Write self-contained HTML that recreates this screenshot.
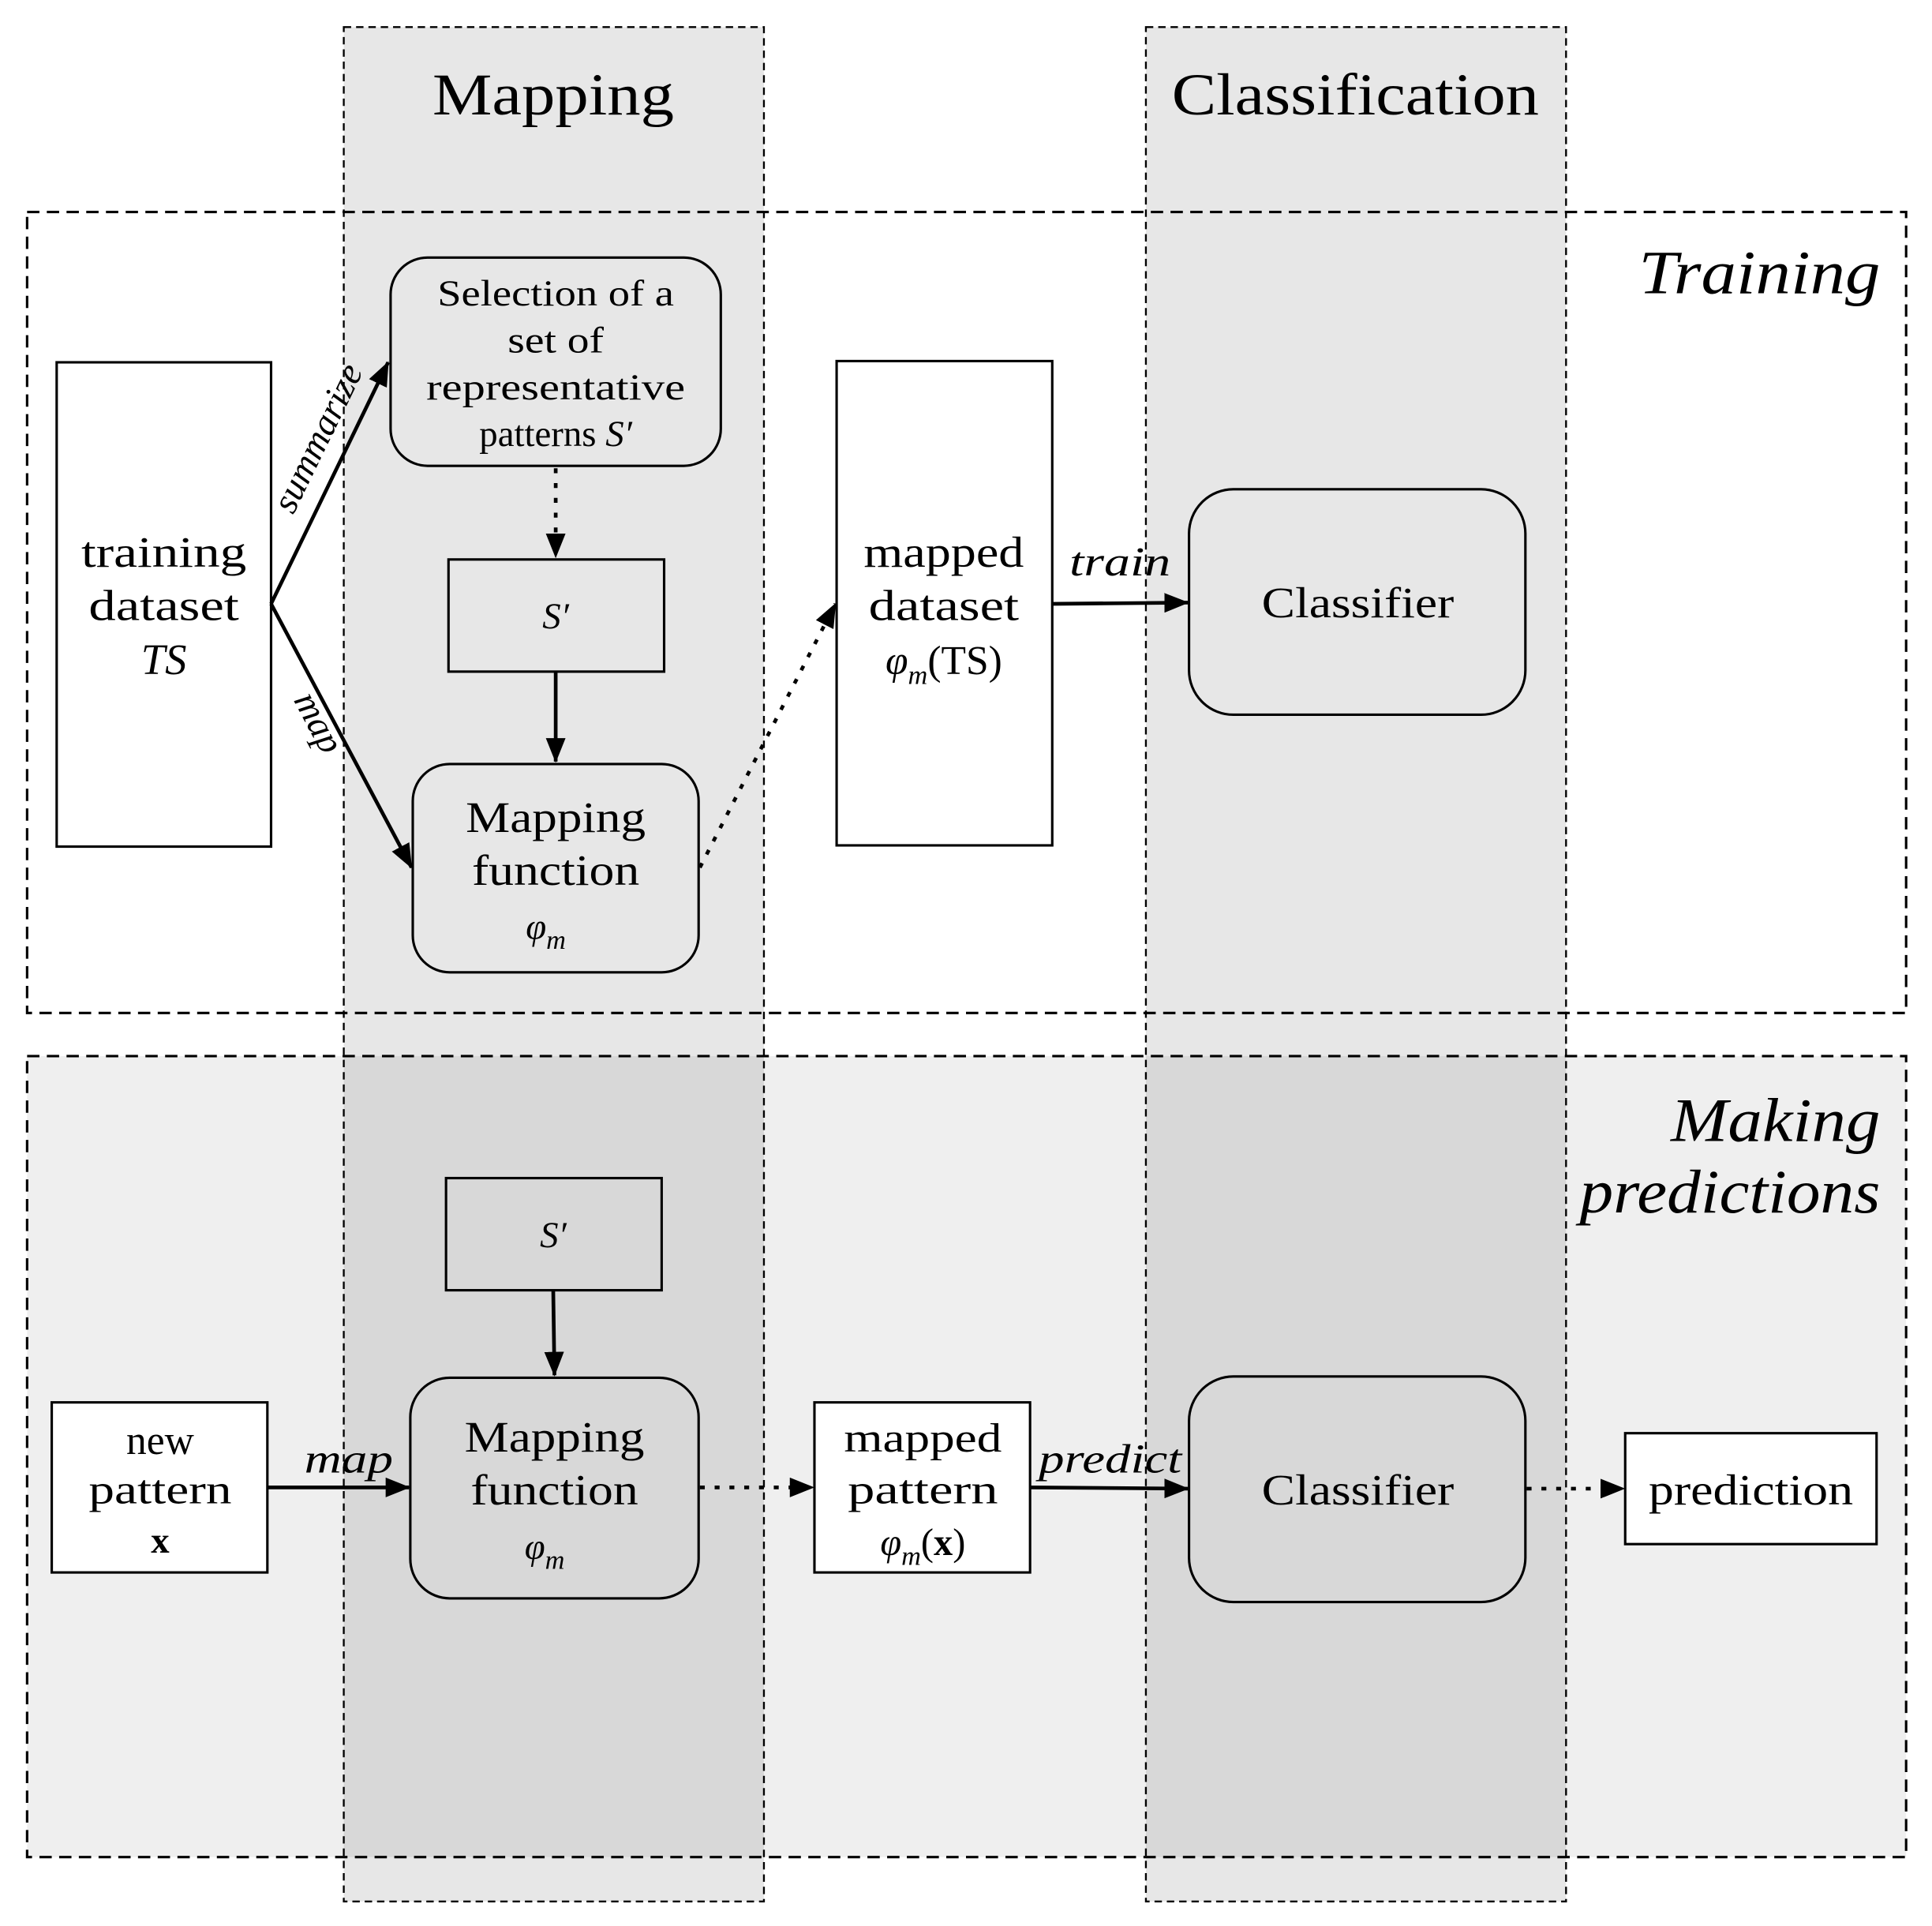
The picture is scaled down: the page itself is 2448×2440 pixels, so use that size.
<!DOCTYPE html>
<html><head><meta charset="utf-8"><style>
html,body{margin:0;padding:0;background:#fff;}
svg{display:block;}
text{font-family:"Liberation Serif",serif;fill:#000;}
.it{font-style:italic;}
</style></head><body>
<svg width="2448" height="2440" viewBox="0 0 1568 1562.9" preserveAspectRatio="none" xmlns="http://www.w3.org/2000/svg">
<defs>
<marker id="ah2" markerWidth="20" markerHeight="16" refX="19" refY="8" orient="auto" markerUnits="userSpaceOnUse">
<path d="M0,0 L20,8 L0,16 z" fill="#000"/>
</marker>
</defs>
<rect x="22" y="857" width="1525" height="650" fill="#efefef"/>
<rect x="22" y="172" width="1525" height="650" fill="none" stroke="#000" stroke-width="2" stroke-dasharray="10,6"/>
<rect x="22" y="857" width="1525" height="650" fill="none" stroke="#000" stroke-width="2" stroke-dasharray="10,6"/>
<rect x="279" y="22" width="341" height="1521" fill="rgba(0,0,0,0.095)" stroke="#000" stroke-width="1.5" stroke-dasharray="6,4"/>
<rect x="930" y="22" width="341" height="1521" fill="rgba(0,0,0,0.095)" stroke="#000" stroke-width="1.5" stroke-dasharray="6,4"/>

<text x="449" y="93" font-size="48" text-anchor="middle" textLength="196" lengthAdjust="spacingAndGlyphs">Mapping</text>
<text x="1100" y="93" font-size="48" text-anchor="middle" textLength="298" lengthAdjust="spacingAndGlyphs">Classification</text>
<text x="1526" y="238" font-size="50" text-anchor="end" class="it" textLength="196" lengthAdjust="spacingAndGlyphs">Training</text>
<text x="1526" y="926" font-size="50" text-anchor="end" class="it" textLength="170" lengthAdjust="spacingAndGlyphs">Making</text>
<text x="1526" y="984" font-size="50" text-anchor="end" class="it" textLength="244" lengthAdjust="spacingAndGlyphs">predictions</text>

<rect x="46" y="294" width="174" height="393" fill="#fff" stroke="#000" stroke-width="2"/>
<text x="133" y="460" font-size="35" text-anchor="middle" textLength="134" lengthAdjust="spacingAndGlyphs">training</text>
<text x="133" y="503" font-size="35" text-anchor="middle" textLength="122" lengthAdjust="spacingAndGlyphs">dataset</text>
<text x="133" y="547" font-size="35" text-anchor="middle" class="it">TS</text>

<rect x="317" y="209" width="268" height="169" rx="30" fill="none" stroke="#000" stroke-width="2"/>
<text x="451" y="248" font-size="30" text-anchor="middle" textLength="192" lengthAdjust="spacingAndGlyphs">Selection of a</text>
<text x="451" y="286" font-size="30" text-anchor="middle" textLength="78" lengthAdjust="spacingAndGlyphs">set of</text>
<text x="451" y="324" font-size="30" text-anchor="middle" textLength="210" lengthAdjust="spacingAndGlyphs">representative</text>
<text x="451" y="362" font-size="30" text-anchor="middle">patterns <tspan class="it">S′</tspan></text>

<rect x="364" y="454" width="175" height="91" fill="none" stroke="#000" stroke-width="2"/>
<text x="451" y="510" font-size="30" text-anchor="middle" class="it">S′</text>

<rect x="335" y="620" width="232" height="169" rx="30" fill="none" stroke="#000" stroke-width="2"/>
<text x="451" y="675" font-size="35" text-anchor="middle" textLength="146" lengthAdjust="spacingAndGlyphs">Mapping</text>
<text x="451" y="718" font-size="35" text-anchor="middle" textLength="136" lengthAdjust="spacingAndGlyphs">function</text>
<text x="443" y="762" font-size="30" text-anchor="middle" class="it">φ<tspan font-size="22" dy="8">m</tspan></text>

<rect x="679" y="293" width="175" height="393" fill="#fff" stroke="#000" stroke-width="2"/>
<text x="766" y="460" font-size="35" text-anchor="middle" textLength="130" lengthAdjust="spacingAndGlyphs">mapped</text>
<text x="766" y="503" font-size="35" text-anchor="middle" textLength="122" lengthAdjust="spacingAndGlyphs">dataset</text>
<text x="766" y="547" font-size="33" text-anchor="middle"><tspan class="it">φ</tspan><tspan class="it" font-size="22" dy="8">m</tspan><tspan dy="-8">(TS)</tspan></text>

<rect x="965" y="397" width="273" height="183" rx="36" fill="none" stroke="#000" stroke-width="2"/>
<text x="1102" y="501" font-size="35" text-anchor="middle" textLength="156" lengthAdjust="spacingAndGlyphs">Classifier</text>

<line x1="220" y1="490" x2="315" y2="294" stroke="#000" stroke-width="3" marker-end="url(#ah2)"/>
<line x1="220" y1="490" x2="334" y2="704" stroke="#000" stroke-width="3" marker-end="url(#ah2)"/>
<text transform="translate(238,418) rotate(-64)" font-size="30" class="it">summarize</text>
<text transform="translate(238,568) rotate(62)" font-size="30" class="it">map</text>
<line x1="451" y1="380" x2="451" y2="452" stroke="#000" stroke-width="3" stroke-dasharray="4,8" marker-end="url(#ah2)"/>
<line x1="451" y1="545" x2="451" y2="618" stroke="#000" stroke-width="3" marker-end="url(#ah2)"/>
<line x1="568" y1="704" x2="678" y2="490" stroke="#000" stroke-width="3" stroke-dasharray="4,8" marker-end="url(#ah2)"/>
<line x1="854" y1="490" x2="964" y2="489" stroke="#000" stroke-width="3" marker-end="url(#ah2)"/>
<text x="909" y="467" font-size="33" text-anchor="middle" class="it" textLength="82" lengthAdjust="spacingAndGlyphs">train</text>

<rect x="362" y="956" width="175" height="91" fill="none" stroke="#000" stroke-width="2"/>
<text x="449" y="1012" font-size="30" text-anchor="middle" class="it">S′</text>

<rect x="42" y="1138" width="175" height="138" fill="#fff" stroke="#000" stroke-width="2"/>
<text x="130" y="1180" font-size="33" text-anchor="middle">new</text>
<text x="130" y="1220" font-size="33" text-anchor="middle" textLength="116" lengthAdjust="spacingAndGlyphs">pattern</text>
<text x="130" y="1260" font-size="30" text-anchor="middle" font-weight="bold">x</text>

<rect x="333" y="1118" width="234" height="179" rx="32" fill="none" stroke="#000" stroke-width="2"/>
<text x="450" y="1178" font-size="35" text-anchor="middle" textLength="146" lengthAdjust="spacingAndGlyphs">Mapping</text>
<text x="450" y="1221" font-size="35" text-anchor="middle" textLength="136" lengthAdjust="spacingAndGlyphs">function</text>
<text x="442" y="1265" font-size="30" text-anchor="middle" class="it">φ<tspan font-size="22" dy="8">m</tspan></text>

<rect x="661" y="1138" width="175" height="138" fill="#fff" stroke="#000" stroke-width="2"/>
<text x="749" y="1178" font-size="33" text-anchor="middle" textLength="128" lengthAdjust="spacingAndGlyphs">mapped</text>
<text x="749" y="1220" font-size="33" text-anchor="middle" textLength="122" lengthAdjust="spacingAndGlyphs">pattern</text>
<text x="749" y="1262" font-size="31" text-anchor="middle"><tspan class="it">φ</tspan><tspan class="it" font-size="22" dy="8">m</tspan><tspan dy="-8">(</tspan><tspan font-weight="bold">x</tspan>)</text>

<rect x="965" y="1117" width="273" height="183" rx="36" fill="none" stroke="#000" stroke-width="2"/>
<text x="1102" y="1221" font-size="35" text-anchor="middle" textLength="156" lengthAdjust="spacingAndGlyphs">Classifier</text>

<rect x="1319" y="1163" width="204" height="90" fill="#fff" stroke="#000" stroke-width="2"/>
<text x="1421" y="1221" font-size="35" text-anchor="middle" textLength="166" lengthAdjust="spacingAndGlyphs">prediction</text>

<line x1="449" y1="1047" x2="450" y2="1116" stroke="#000" stroke-width="3" marker-end="url(#ah2)"/>
<line x1="217" y1="1207" x2="332" y2="1207" stroke="#000" stroke-width="3" marker-end="url(#ah2)"/>
<text x="283" y="1195" font-size="33" text-anchor="middle" class="it" textLength="72" lengthAdjust="spacingAndGlyphs">map</text>
<line x1="568" y1="1207" x2="660" y2="1207" stroke="#000" stroke-width="3" stroke-dasharray="4,8" marker-end="url(#ah2)"/>
<line x1="836" y1="1207" x2="964" y2="1208" stroke="#000" stroke-width="3" marker-end="url(#ah2)"/>
<text x="901" y="1195" font-size="33" text-anchor="middle" class="it" textLength="116" lengthAdjust="spacingAndGlyphs">predict</text>
<line x1="1239" y1="1208" x2="1318" y2="1208" stroke="#000" stroke-width="3" stroke-dasharray="4,8" marker-end="url(#ah2)"/>
</svg>
</body></html>
